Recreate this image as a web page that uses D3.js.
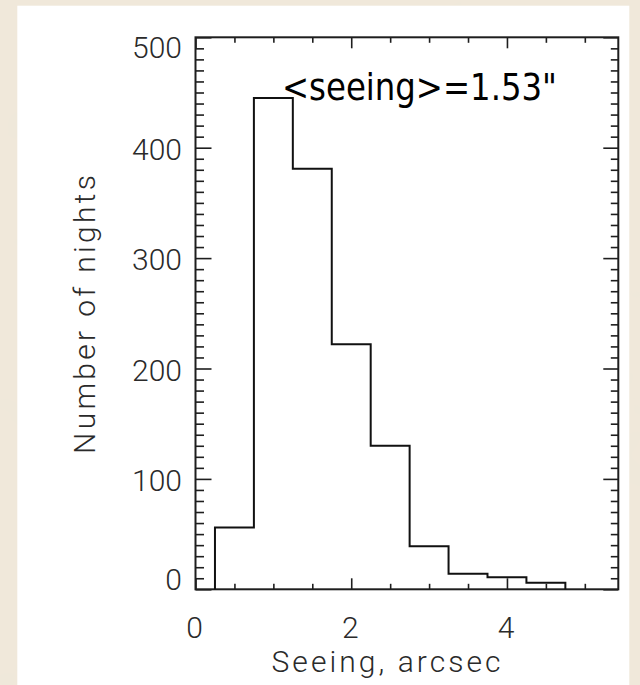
<!DOCTYPE html>
<html>
<head>
<meta charset="utf-8">
<script src="https://cdn.jsdelivr.net/npm/d3@7"></script>
<style>
  html, body { margin: 0; padding: 0; background: #efe6d7; }
  svg { display: block; }
</style>
</head>
<body>
<svg id="chart" width="640" height="685"></svg>
<script>
// ---- data ----
const binEdges = [0.25, 0.75, 1.25, 1.75, 2.25, 2.75, 3.25, 3.75, 4.25, 4.75];
const nightCounts = [56, 445, 381, 222, 130, 39, 14, 11, 6];
const xTickValues = [0, 2, 4];
const xTickLabels = ["0", "2", "4"];
const yTickValues = [0, 100, 200, 300, 400, 500];
const yTickLabels = ["0", "100", "200", "300", "400", "500"];
const xTitle = "Seeing, arcsec";
const yTitle = "Number of nights";
const annotation = "<seeing>=1.53\"";

// ---- layout ----
const svg = d3.select("#chart");
const L = 195.5, R = 618.3, T = 37.3, B = 589.3;
const x = d3.scaleLinear().domain([0, 5.43]).range([L, R]);
const y = d3.scaleLinear().domain([0, 500]).range([B, T]);
const ink = "#1e1e1e";
const labelFont = "Roboto, 'Liberation Sans', sans-serif";

// parchment background with subtle mottling
const defs = svg.append("defs");
const f = defs.append("filter").attr("id", "parch").attr("x", 0).attr("y", 0).attr("width", 1).attr("height", 1);
f.append("feTurbulence").attr("type", "fractalNoise").attr("baseFrequency", 0.018).attr("numOctaves", 3).attr("seed", 7);
f.append("feColorMatrix").attr("type", "matrix")
  .attr("values", "0 0 0 0 0.86  0 0 0 0 0.80  0 0 0 0 0.70  1.1 0 0 0 -0.42");
svg.append("rect").attr("x", 0).attr("y", 0).attr("width", 640).attr("height", 685).attr("fill", "#f0e8da");
svg.append("rect").attr("x", 0).attr("y", 0).attr("width", 640).attr("height", 685).attr("filter", "url(#parch)");
svg.append("rect").attr("x", 17.3).attr("y", 5.7).attr("width", 612).attr("height", 680).attr("fill", "#ffffff");

// minor / major ticks
const xMinor = d3.range(0, 5.43, 0.5).filter(v => !xTickValues.includes(v));
const yMinor = d3.range(0, 501, 10).filter(v => !yTickValues.includes(v));

function styleAxis(g) {
  g.select(".domain").remove();
  g.selectAll("line").attr("stroke", ink).attr("stroke-width", 1.6);
  g.selectAll("text").remove();
}
svg.append("g").attr("transform", `translate(0,${B})`).call(d3.axisBottom(x).tickValues(xMinor).tickSize(-5.5)).call(styleAxis);
svg.append("g").attr("transform", `translate(0,${B})`).call(d3.axisBottom(x).tickValues(xTickValues).tickSize(-11)).call(styleAxis);
svg.append("g").attr("transform", `translate(0,${T})`).call(d3.axisTop(x).tickValues(xMinor).tickSize(-5.5)).call(styleAxis);
svg.append("g").attr("transform", `translate(0,${T})`).call(d3.axisTop(x).tickValues(xTickValues).tickSize(-11)).call(styleAxis);
svg.append("g").attr("transform", `translate(${L},0)`).call(d3.axisLeft(y).tickValues(yMinor).tickSize(-8.5)).call(styleAxis);
svg.append("g").attr("transform", `translate(${L},0)`).call(d3.axisLeft(y).tickValues(yTickValues).tickSize(-16)).call(styleAxis);
svg.append("g").attr("transform", `translate(${R},0)`).call(d3.axisRight(y).tickValues(yMinor).tickSize(-7.5)).call(styleAxis);
svg.append("g").attr("transform", `translate(${R},0)`).call(d3.axisRight(y).tickValues(yTickValues).tickSize(-15)).call(styleAxis);

// frame
svg.append("rect").attr("x", L).attr("y", T).attr("width", R - L).attr("height", B - T)
  .attr("fill", "none").attr("stroke", ink).attr("stroke-width", 2);

// histogram
const pts = [{ x: binEdges[0], y: 0 }];
nightCounts.forEach((c, i) => pts.push({ x: binEdges[i], y: c }));
pts.push({ x: binEdges[binEdges.length - 1], y: nightCounts[nightCounts.length - 1] });
pts.push({ x: binEdges[binEdges.length - 1], y: 0 });
const line = d3.line().x(d => x(d.x)).y(d => y(d.y)).curve(d3.curveStepAfter);
svg.append("path").attr("d", line(pts)).attr("fill", "none").attr("stroke", "#111").attr("stroke-width", 2);

// y tick labels
svg.selectAll(".ylab").data(yTickValues).enter().append("text")
  .attr("x", 182)
  .attr("y", d => Math.min(Math.max(y(d) + 12, T + 21), B + 1))
  .attr("text-anchor", "end")
  .attr("font-family", labelFont).attr("font-weight", 300).attr("font-size", 30)
  .attr("fill", "#2a2a2a")
  .text((d, i) => yTickLabels[i]);

// x tick labels
svg.selectAll(".xlab").data(xTickValues).enter().append("text")
  .attr("x", d => x(d) - 1)
  .attr("y", 637.5)
  .attr("text-anchor", "middle")
  .attr("font-family", labelFont).attr("font-weight", 300).attr("font-size", 30)
  .attr("fill", "#2a2a2a")
  .text((d, i) => xTickLabels[i]);

// axis titles
svg.append("text")
  .attr("x", 386).attr("y", 672)
  .attr("text-anchor", "middle")
  .attr("font-family", labelFont).attr("font-weight", 300).attr("font-size", 30)
  .attr("fill", "#2a2a2a")
  .attr("textLength", 229).attr("lengthAdjust", "spacing")
  .text(xTitle);

svg.append("text")
  .attr("transform", "translate(95,314.5) rotate(-90)")
  .attr("text-anchor", "middle")
  .attr("font-family", labelFont).attr("font-weight", 300).attr("font-size", 30)
  .attr("fill", "#2a2a2a")
  .attr("textLength", 279).attr("lengthAdjust", "spacing")
  .text(yTitle);

// annotation
svg.append("text")
  .attr("x", 282).attr("y", 99.5)
  .attr("font-family", "'DejaVu Sans', Verdana, sans-serif").attr("font-size", 38)
  .attr("fill", "#000")
  .attr("textLength", 275).attr("lengthAdjust", "spacingAndGlyphs")
  .text(annotation);
</script>
</body>
</html>
